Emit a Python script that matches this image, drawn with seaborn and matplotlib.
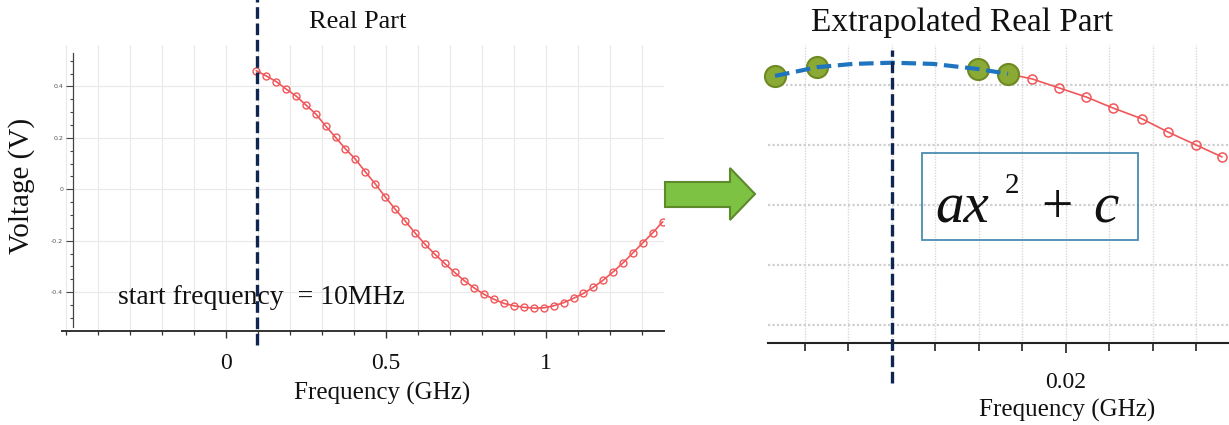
import matplotlib
matplotlib.use("Agg")
import numpy as np
import matplotlib.pyplot as plt
import seaborn as sns
from matplotlib.patches import Polygon, Rectangle
from matplotlib.ticker import FixedLocator, MultipleLocator, NullFormatter

# ---------------- data ----------------
# left panel: real part over full band (GHz, V)
freq_ghz = [0.095, 0.126, 0.157, 0.188, 0.219, 0.250, 0.281, 0.312, 0.343, 0.374,
            0.405, 0.436, 0.467, 0.498, 0.529, 0.560, 0.591, 0.622, 0.653, 0.684,
            0.715, 0.746, 0.777, 0.808, 0.839, 0.870, 0.901, 0.932, 0.963, 0.994,
            1.025, 1.056, 1.087, 1.118, 1.149, 1.180, 1.211, 1.242, 1.273, 1.304,
            1.335, 1.366]
voltage = [0.461, 0.441, 0.419, 0.390, 0.363, 0.328, 0.293, 0.246, 0.202, 0.157,
           0.117, 0.068, 0.021, -0.029, -0.077, -0.122, -0.169, -0.213, -0.252, -0.288,
           -0.323, -0.356, -0.384, -0.409, -0.428, -0.444, -0.453, -0.459, -0.462, -0.461,
           -0.453, -0.441, -0.424, -0.405, -0.381, -0.353, -0.321, -0.286, -0.247, -0.208,
           -0.169, -0.126]
start_line_left = 0.096

# right panel: zoomed start of the band
zoom_freq = [0.01667, 0.01805, 0.01960, 0.02115, 0.02270, 0.02437, 0.02586, 0.02747, 0.02897]
zoom_volt = [0.4637, 0.4620, 0.4590, 0.4560, 0.4523, 0.4487, 0.4443, 0.4400, 0.4360]
fit_pts_freq = [0.00328, 0.00569, 0.01494, 0.01667]
fit_pts_volt = [0.4630, 0.4660, 0.4653, 0.4637]
fit_freq = [0.00328, 0.00570, 0.00776, 0.01000, 0.01236, 0.01494, 0.01667]
fit_volt = [0.4630, 0.4659, 0.4670, 0.4674, 0.4670, 0.4653, 0.4637]
start_line_right = 0.010

left_major_x = [0, 0.5, 1]
left_major_y = [-0.4, -0.2, 0, 0.2, 0.4]
right_major_x = [0.02]
right_grid_y = [0.38, 0.40, 0.42, 0.44, 0.46]

# ---------------- style ----------------
sns.set_theme(style="ticks")
plt.rcParams["font.family"] = ["Liberation Serif", "DejaVu Serif"]
plt.rcParams["axes.unicode_minus"] = False

W, H = 1229, 425
fig = plt.figure(figsize=(W / 100, H / 100), dpi=100)
fig.patch.set_facecolor("white")


def fx(x):
    return x / W


def fy(y):
    return 1 - y / H


RED = "#f0575a"
NAVY = "#0f2750"
GRID = "#e9e9e9"

# ---------------- left panel ----------------
axL = fig.add_axes([fx(62), fy(331), (664 - 62) / W, (331 - 45) / H])
axL.set_facecolor("none")
axL.set_xlim(-0.5125, 1.37)
axL.set_ylim(-0.551, 0.561)

sns.lineplot(x=freq_ghz, y=voltage, ax=axL, color=RED, lw=1.2, marker="o",
             ms=5, mfc="none", mec=RED, mew=1.0, zorder=3)

for s in ["top", "right"]:
    axL.spines[s].set_visible(False)
axL.spines["bottom"].set_color("#333333")
axL.spines["bottom"].set_linewidth(1.4)
axL.spines["left"].set_position(("data", -0.478))
axL.spines["left"].set_bounds(-0.535, 0.53)
axL.spines["left"].set_color("#444444")
axL.spines["left"].set_linewidth(0.9)

axL.xaxis.set_major_locator(FixedLocator(left_major_x))
axL.xaxis.set_minor_locator(MultipleLocator(0.1))
axL.set_xticklabels(["0", "0.5", "1"])
axL.yaxis.set_major_locator(FixedLocator(left_major_y))
axL.yaxis.set_minor_locator(FixedLocator(list(np.arange(-0.5, 0.51, 0.05))))
axL.set_yticklabels(["-0.4", "-0.2", "0", "0.2", "0.4"])
axL.tick_params(axis="x", which="major", length=5, width=1.0, color="#333333",
                labelsize=17, pad=11, labelcolor="#111111")
axL.tick_params(axis="x", which="minor", length=3, width=0.9, color="#333333")
axL.tick_params(axis="y", which="major", length=5, width=0.8, color="#444444",
                labelsize=4.5, pad=2, labelcolor="#555555")
axL.tick_params(axis="y", which="minor", length=2.5, width=0.8, color="#444444")
for lab in axL.get_yticklabels():
    lab.set_fontfamily("DejaVu Sans")

axL.grid(axis="x", which="both", color=GRID, lw=0.8, zorder=0)
axL.hlines(left_major_y, -0.478, 1.37, color=GRID, lw=0.8, zorder=0)
axL.axvline(start_line_left, ymin=-0.05, ymax=1.16, clip_on=False, color=NAVY,
            lw=2.4, ls=(0, (3.5, 1.4)), zorder=6)

axL.text(fx(118), fy(298), "start frequency  = 10MHz", transform=fig.transFigure,
         fontsize=20, va="center", ha="left", color="#111111", zorder=1)

# ---------------- right panel ----------------
axR = fig.add_axes([fx(768), fy(343), (1229 - 768) / W, (343 - 45) / H])
axR.set_facecolor("none")
axR.set_xlim(0.002874, 0.029368)
axR.set_ylim(0.374, 0.4733)

sns.lineplot(x=zoom_freq, y=zoom_volt, ax=axR, color=RED, lw=1.2, marker="o",
             ms=6.5, mfc="none", mec=RED, mew=1.1, zorder=3)
sns.scatterplot(x=fit_pts_freq, y=fit_pts_volt, ax=axR, s=230, color="#8aaa35",
                edgecolor="#6d8a22", linewidth=1.5, zorder=4)
axR.collections[-1].set_clip_on(False)
sns.lineplot(x=fit_freq, y=fit_volt, ax=axR, color="#1f74c0", lw=3.0, zorder=5)
axR.lines[-1].set_dashes((3.5, 1.6))
axR.lines[-1].set_clip_on(False)

for s in ["top", "right", "left"]:
    axR.spines[s].set_visible(False)
axR.spines["bottom"].set_color("#222222")
axR.spines["bottom"].set_linewidth(1.5)

axR.xaxis.set_major_locator(FixedLocator(right_major_x))
axR.xaxis.set_minor_locator(MultipleLocator(0.0025))
axR.set_xticklabels(["0.02"])
axR.yaxis.set_major_locator(FixedLocator(right_grid_y))
axR.yaxis.set_major_formatter(NullFormatter())
axR.tick_params(axis="y", which="both", length=0, left=False)
axR.tick_params(axis="x", which="major", length=7, width=1.2, color="#222222",
                labelsize=17, pad=14, labelcolor="#111111")
axR.tick_params(axis="x", which="minor", length=6, width=1.2, color="#222222")

axR.grid(axis="x", which="both", color="#d8d8d8", lw=1.0, ls=(0, (1, 1)), zorder=0)
axR.grid(axis="y", which="major", color="#cfcfcf", lw=1.6, ls=(0, (1, 1)), zorder=0)
axR.axvline(start_line_right, ymin=-0.134, ymax=0.983, clip_on=False, color=NAVY,
            lw=2.4, ls=(0, (3.5, 1.4)), zorder=6)

# ---------------- annotations ----------------
fig.text(fx(358), fy(22), "Real Part", fontsize=19, ha="center", va="center", color="#111111")
fig.text(fx(962), fy(22), "Extrapolated Real Part", fontsize=24, ha="center", va="center",
         color="#111111")
fig.text(fx(22), fy(186), "Voltage (V)", fontsize=21, rotation=90, ha="center", va="center",
         color="#111111")
fig.text(fx(382), fy(393), "Frequency (GHz)", fontsize=18, ha="center", va="center",
         color="#111111")
fig.text(fx(1067), fy(410), "Frequency (GHz)", fontsize=18, ha="center", va="center",
         color="#111111")

# green arrow
arrow_px = [(665, 182), (730, 182), (730, 168), (755, 194), (730, 220), (730, 207), (665, 207)]
fig.patches.append(Polygon([(fx(a), fy(b)) for a, b in arrow_px], closed=True,
                           transform=fig.transFigure, fc="#7dc242", ec="#5e8a2c", lw=1.5))

# formula box
fig.patches.append(Rectangle((fx(922), fy(240)), (1138 - 922) / W, (240 - 153) / H,
                             transform=fig.transFigure, fill=False, ec="#4a8cb2", lw=1.3))
fig.text(fx(935), fy(223), "ax", fontsize=41, style="italic", ha="left", va="baseline",
         color="#111111")
fig.text(fx(1005), fy(193), "2", fontsize=21, ha="left", va="baseline", color="#111111")
fig.text(fx(1041), fy(223), "+", fontsize=40, ha="left", va="baseline", color="#111111")
fig.text(fx(1093), fy(223), "c", fontsize=41, style="italic", ha="left", va="baseline",
         color="#111111")

fig.savefig("out.png", dpi=100, facecolor="white")
